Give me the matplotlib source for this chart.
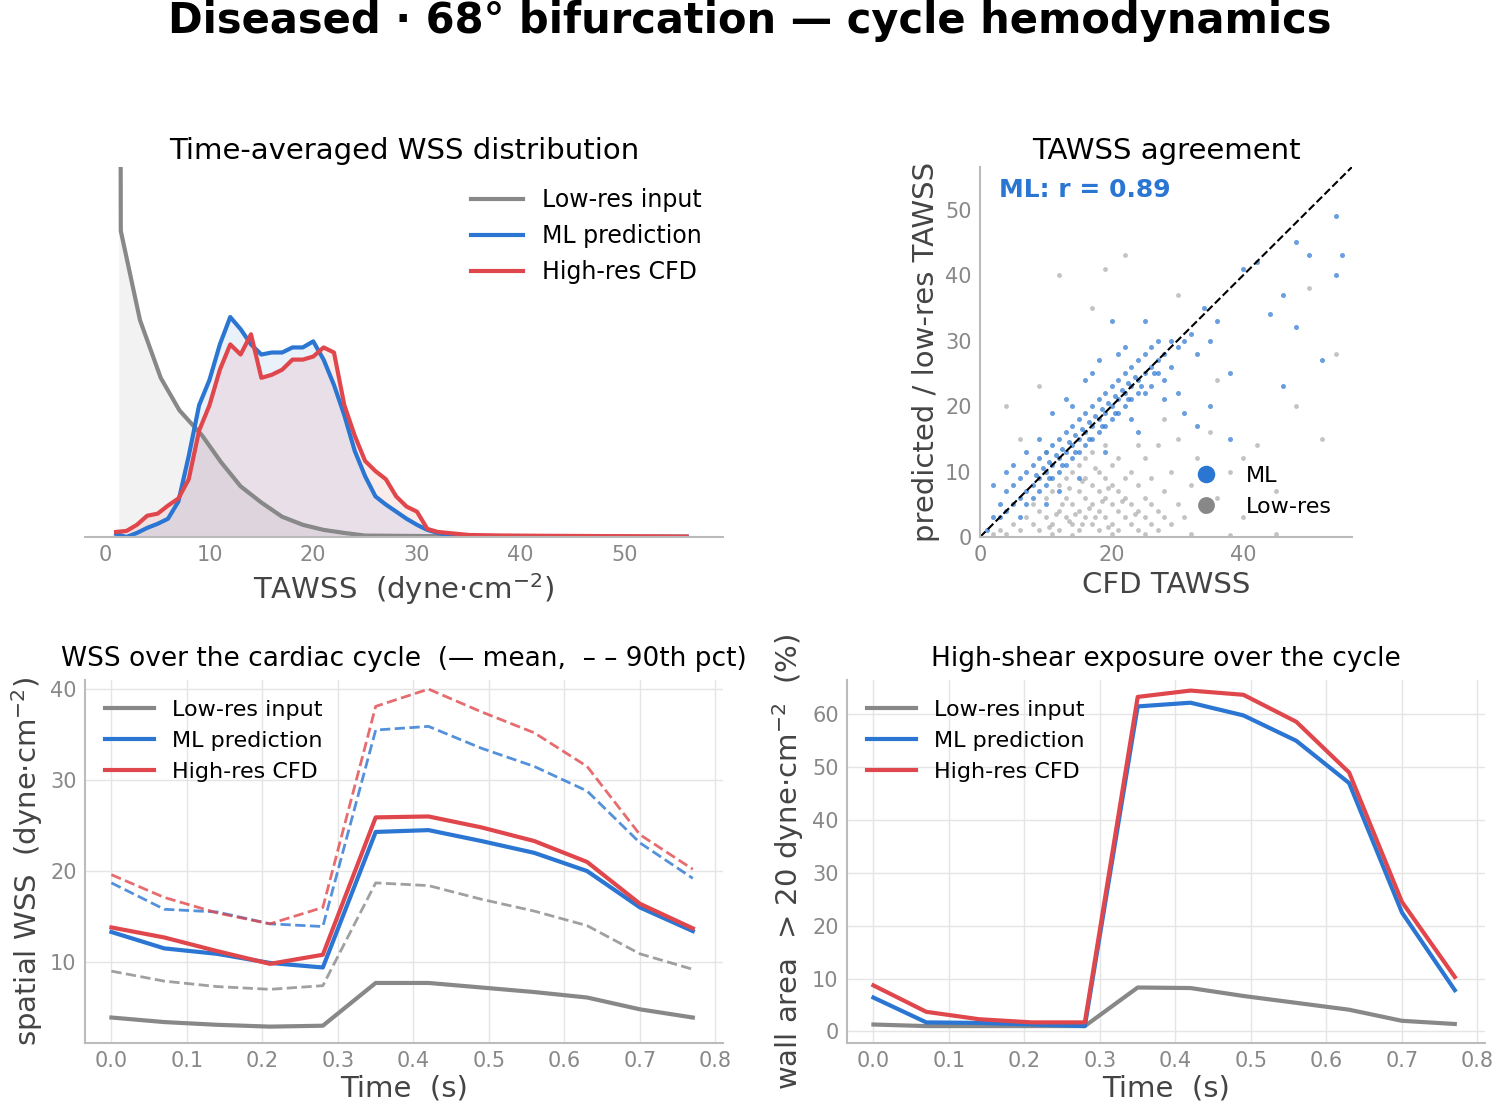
import matplotlib
matplotlib.use("Agg")
import matplotlib.pyplot as plt
import numpy as np

plt.rcParams['font.family'] = ['DejaVu Sans']

# ---- top-left: TAWSS distribution (binned counts, arbitrary units)
bins_x = [1, 2, 3, 4, 5, 6, 7, 8, 9, 10, 11, 12, 13, 14, 15, 16, 17, 18, 19, 20, 21, 22, 23, 24, 25,
          26, 27, 28, 29, 30, 31, 32, 33, 34, 35, 38, 42, 46, 50, 54, 56]
ml_hist = [3, 0, 4, 9, 13, 18, 35, 80, 130, 155, 190, 217, 205, 190, 180, 182, 182, 187, 187, 193, 175,
           150, 120, 85, 60, 40, 32, 25, 18, 12, 7, 4, 2, 1, 0.5, 0.5, 0.5, 0.5, 0.3, 0.3, 0.3]
cfd_hist = [5, 6, 12, 21, 23, 31, 38, 57, 105, 130, 165, 190, 180, 200, 157, 160, 165, 175, 175, 178, 187,
            182, 130, 100, 75, 65, 57, 40, 30, 25, 8, 5, 4, 3, 2, 1.5, 1.2, 1.0, 0.8, 0.6, 0.5]
low_x = [1.3, 1.45, 3.3, 5.3, 7.1, 9.3, 11.1, 13.0, 15.0, 17.0, 19.0, 21.0, 23.0, 25.0, 30.0, 35.0, 40.0]
low_hist = [1200, 302, 214, 157, 125, 100, 74, 50, 34, 20, 12, 7, 4, 1.4, 1.0, 0.5, 0.2]

# ---- top-right scatter (CFD, predicted)
ml_pts = [(1,1),(2,3),(3,3),(3,5),(4,4),(4,7),(5,5),(5,8),(6,6),(6,9),(7,7),(7,10),(7,5),(8,8),(8,11),(8,6),
          (9,9),(9,12),(9,7),(10,10),(10,13),(10,8),(11,11),(11,14),(11,9),(12,12),(12,15),(12,10),(13,13),
          (13,16),(13,11),(14,14),(14,17),(14,12),(15,15),(15,18),(15,13),(16,16),(16,19),(16,14),(17,17),
          (17,20),(17,15),(18,18),(18,21),(18,16),(19,19),(19,22),(19,17),(20,20),(20,23),(20,18),(21,21),
          (21,24),(21,19),(22,22),(22,25),(22,20),(23,23),(23,26),(23,21),(24,24),(24,27),(24,22),(25,25),
          (25,28),(25,22),(26,26),(26,29),(26,23),(27,27),(27,25),(28,28),(28,24),(29,30),(29,26),(30,29),
          (31,30),(32,31),(33,28),(34,35),(35,30),(36,33),(38,25),(40,41),(42,42),(44,34),(46,37),(48,45),
          (50,43),(52,27),(54,49),(54,40),(55,43),(11,19),(9,15),(14,20),(18,27),(20,33),(22,29),(16,24),
          (25,33),(27,30),(30,22),(33,17),(35,20),(38,15),(46,23),(48,32),(7,13),(5,11),(6,3),(10,5),
          (12,7),(15,9),(19,13),(24,16),(28,21),(31,19),(2,8),(4,10),(13,21),(17,25),(21,28),(23,18),
          (8.5,9.5),(9.5,10.5),(10.5,11.5),(11.5,12.5),(12.5,13.5),(13.5,14.5),(14.5,15.5),(15.5,16.5),
          (16.5,17.5),(17.5,18.5),(18.5,19.5),(19.5,20.5),(20.5,21.5),(21.5,22.5),(22.5,23.5),(23.5,24.5),
          (10.5,9),(12.5,11),(14.5,13),(16.5,15),(18.5,17),(20.5,19),(22.5,21),(24.5,23),(26.5,25)]
low_pts = [(2,0.5),(3,1),(4,0.5),(5,2),(6,1),(7,3),(8,2),(8,5),(9,1),(9,4),(10,3),(10,6),(11,2),(11,7),
           (12,1),(12,4),(12,8),(13,3),(13,6),(13,9),(14,2),(14,5),(14,10),(15,1),(15,4),(15,7),(15,11),
           (16,3),(16,6),(16,9),(16,12),(17,2),(17,5),(17,8),(17,13),(18,1),(18,4),(18,7),(18,10),(19,3),
           (19,6),(19,9),(19,14),(20,2),(20,5),(20,8),(20,11),(21,1),(21,4),(21,7),(21,12),(22,3),(22,6),
           (22,9),(23,2),(23,5),(23,10),(24,1),(24,4),(24,8),(25,3),(25,6),(25,12),(26,2),(26,5),(26,9),
           (27,1),(27,4),(27,14),(28,3),(28,7),(29,2),(29,10),(30,5),(30,15),(31,3),(32,8),(33,12),(34,4),
           (35,16),(36,6),(38,10),(40,3),(42,14),(45,7),(48,20),(52,15),(54,28),(12,40),(19,41),(22,43),
           (30,37),(4,20),(9,23),(6,15),(10,13),(11,0.5),(14,0.3),(20,0.5),(25,0.4),(32,0.5),(38,0.3),
           (45,0.5),(17,35),(28,18),(24,14),(36,24),(40,12),(50,38),
           (13.5,2.5),(14.5,3.5),(15.5,2),(16.5,4.5),(17.5,3),(18.5,5.5),(19.5,1.5),(12.5,5),(11.5,3.5),
           (10.5,1.5),(15.5,8.5),(17.5,10.5),(19.5,7.5),(21.5,5.5),(23.5,3.5),(13.5,7.5)]

# ---- bottom: cycle time series
t = [0.0, 0.07, 0.14, 0.21, 0.28, 0.35, 0.42, 0.49, 0.56, 0.63, 0.70, 0.77]
low_mean = [3.9, 3.4, 3.1, 2.9, 3.0, 7.7, 7.7, 7.2, 6.7, 6.1, 4.8, 3.9]
ml_mean = [13.3, 11.5, 10.9, 9.9, 9.4, 24.3, 24.5, 23.3, 22.0, 20.0, 16.0, 13.4]
cfd_mean = [13.8, 12.7, 11.2, 9.8, 10.8, 25.9, 26.0, 24.8, 23.3, 21.0, 16.4, 13.7]
low_p90 = [9.0, 7.9, 7.3, 7.0, 7.4, 18.7, 18.4, 16.9, 15.6, 14.0, 10.9, 9.2]
ml_p90 = [18.7, 15.8, 15.5, 14.2, 13.9, 35.5, 35.9, 33.5, 31.5, 28.8, 23.1, 19.2]
cfd_p90 = [19.6, 17.1, 15.4, 14.2, 16.0, 38.1, 40.0, 37.5, 35.2, 31.5, 24.0, 20.2]
low_area = [1.3, 1.0, 1.0, 1.0, 1.0, 8.3, 8.2, 6.7, 5.4, 4.1, 2.0, 1.4]
ml_area = [6.4, 1.7, 1.6, 1.3, 1.0, 61.5, 62.2, 59.8, 55.0, 47.0, 22.5, 7.8]
cfd_area = [8.7, 3.7, 2.3, 1.7, 1.7, 63.3, 64.5, 63.7, 58.6, 49.0, 24.5, 10.3]

GREY, BLUE, RED = '#888888', '#2a76d2', '#e0474c'
labels = ['Low-res input', 'ML prediction', 'High-res CFD']
W, H = 1500, 1112
fig = plt.figure(figsize=(15, 11.12), dpi=100)

def ax_px(l, t_, r, b):
    return fig.add_axes([l / W, 1 - b / H, (r - l) / W, (b - t_) / H])

def style(ax):
    for s in ['top', 'right']:
        ax.spines[s].set_visible(False)
    for s in ['left', 'bottom']:
        ax.spines[s].set_color('#bbbbbb')
        ax.spines[s].set_linewidth(1.5)
    ax.tick_params(colors='#888888', labelsize=15, length=0, pad=6)

fig.suptitle('Diseased · 68° bifurcation — cycle hemodynamics', fontsize=30, fontweight='bold', y=1.0)

# top-left
ax1 = ax_px(85, 167, 723, 537)
style(ax1)
ax1.spines['left'].set_visible(False)
ax1.fill_between(low_x, low_hist, color=GREY, alpha=0.1, lw=0)
ax1.fill_between(bins_x, ml_hist, color=BLUE, alpha=0.1, lw=0)
ax1.fill_between(bins_x, cfd_hist, color=RED, alpha=0.1, lw=0)
ax1.plot(low_x, low_hist, color=GREY, lw=3, label=labels[0])
ax1.plot(bins_x, ml_hist, color=BLUE, lw=3, label=labels[1])
ax1.plot(bins_x, cfd_hist, color=RED, lw=3, label=labels[2])
ax1.set_ylim(0, 365)
ax1.set_xlim(-2, 59.5)
ax1.set_yticks([])
ax1.set_xticks([0, 10, 20, 30, 40, 50])
ax1.set_xlabel('TAWSS  (dyne·cm$^{-2}$)', fontsize=21, color='#444444')
ax1.set_title('Time-averaged WSS distribution', fontsize=21, pad=6)
ax1.legend(frameon=False, fontsize=17, loc='upper right', handlelength=2.2, bbox_to_anchor=(1.0, 1.0))

# top-right
ax2 = ax_px(980, 167, 1352, 537)
style(ax2)
lx, ly = zip(*low_pts)
mx, my = zip(*ml_pts)
ax2.scatter(lx, ly, s=12, color=GREY, alpha=0.5, lw=0, label='Low-res')
ax2.scatter(mx, my, s=13, color=BLUE, alpha=0.7, lw=0, label='ML')
ax2.plot([0, 57], [0, 57], 'k--', lw=1.5)
ax2.set_xlim(0, 56.5)
ax2.set_ylim(0, 56.5)
ax2.set_xticks([0, 20, 40])
ax2.set_yticks([0, 10, 20, 30, 40, 50])
ax2.set_xlabel('CFD TAWSS', fontsize=21, color='#444444')
ax2.set_ylabel('predicted / low-res TAWSS', fontsize=21, color='#444444')
ax2.set_title('TAWSS agreement', fontsize=21, pad=6)
ax2.text(0.05, 0.97, 'ML: r = 0.89', transform=ax2.transAxes, color=BLUE, fontsize=18,
         fontweight='bold', va='top')
h, l = ax2.get_legend_handles_labels()
ax2.legend(h[::-1], l[::-1], frameon=False, fontsize=16, loc='lower right', markerscale=3.5,
           bbox_to_anchor=(1.0, 0.0), scatteryoffsets=[0.5])
for lh in ax2.get_legend().legend_handles:
    lh.set_alpha(1)

# bottom-left
ax3 = ax_px(85, 680, 723, 1043)
style(ax3)
ax3.grid(True, color='#e5e5e5', lw=1)
ax3.set_axisbelow(True)
for y, c, lab in [(low_mean, GREY, labels[0]), (ml_mean, BLUE, labels[1]), (cfd_mean, RED, labels[2])]:
    ax3.plot(t, y, color=c, lw=3, label=lab)
for y, c in [(low_p90, GREY), (ml_p90, BLUE), (cfd_p90, RED)]:
    ax3.plot(t, y, color=c, lw=2, ls='--', alpha=0.8)
ax3.set_xlim(-0.035, 0.81)
ax3.set_ylim(1.1, 41)
ax3.set_yticks([10, 20, 30, 40])
ax3.set_xticks(np.arange(0, 0.81, 0.1))
ax3.set_xlabel('Time  (s)', fontsize=21, color='#444444', labelpad=2)
ax3.set_ylabel('spatial WSS  (dyne·cm$^{-2}$)', fontsize=21, color='#444444')
ax3.set_title('WSS over the cardiac cycle  (— mean,  – – 90th pct)', fontsize=19, pad=10)
ax3.legend(frameon=False, fontsize=16, loc='upper left', handlelength=2.2)

# bottom-right
ax4 = ax_px(847, 680, 1485, 1043)
style(ax4)
ax4.grid(True, color='#e5e5e5', lw=1)
ax4.set_axisbelow(True)
for y, c, lab in [(low_area, GREY, labels[0]), (ml_area, BLUE, labels[1]), (cfd_area, RED, labels[2])]:
    ax4.plot(t, y, color=c, lw=3, label=lab)
ax4.set_xlim(-0.035, 0.81)
ax4.set_ylim(-2.2, 66.5)
ax4.set_yticks([0, 10, 20, 30, 40, 50, 60])
ax4.set_xticks(np.arange(0, 0.81, 0.1))
ax4.set_xlabel('Time  (s)', fontsize=21, color='#444444', labelpad=2)
ax4.set_ylabel('wall area  > 20 dyne·cm$^{-2}$  (%)', fontsize=21, color='#444444')
ax4.set_title('High-shear exposure over the cycle', fontsize=19, pad=10)
ax4.legend(frameon=False, fontsize=16, loc='upper left', handlelength=2.2)

fig.savefig('out.png', dpi=100)
